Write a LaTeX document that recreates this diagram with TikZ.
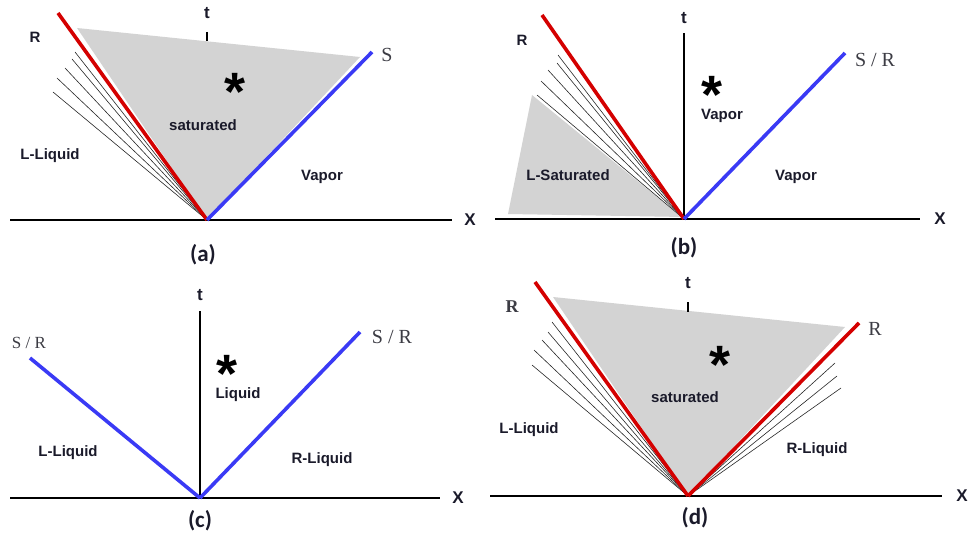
\documentclass[tikz,border=0pt]{standalone}
\usepackage{fontspec}
\setmainfont{Liberation Sans}
\newfontfamily\serifR{Liberation Serif}
\newfontfamily\capfont{Carlito}
\definecolor{wred}{HTML}{D40000}
\definecolor{wblue}{HTML}{3A3AF5}
\definecolor{wgray}{HTML}{D3D3D3}
\definecolor{lbl}{HTML}{1A1A2A}
\definecolor{slbl}{HTML}{3C3C44}
\newcommand{\starglyph}{\raisebox{-17.8pt}[15pt][0pt]{*}}
\begin{document}
\begin{tikzpicture}[x=1pt,y=-1pt,
  axisline/.style={line width=2pt,black},
  taxis/.style={line width=1.6pt,black},
  redwave/.style={line width=3.6pt,wred},
  bluewave/.style={line width=3.6pt,wblue},
  fanline/.style={line width=0.6pt,black!85},
  fillreg/.style={fill=wgray,draw=none},
  lab/.style={font=\fontsize{15}{17}\selectfont\bfseries,text=lbl,inner sep=0pt},
  axlab/.style={font=\fontsize{17}{19}\selectfont\bfseries,text=lbl,inner sep=0pt},
  serlab/.style={font=\serifR\fontsize{20}{22}\selectfont,text=slbl,inner sep=0pt},
  caplab/.style={font=\capfont\fontsize{23}{25}\selectfont\bfseries,text=lbl,inner sep=0pt},
  starlab/.style={font=\fontsize{54}{54}\selectfont\bfseries,inner sep=0pt}
]
\useasboundingbox (0,0) rectangle (971,540);

% ---------------- panel (a) ----------------
\coordinate (aO) at (207,220);
\coordinate (aR) at (58,13);
\coordinate (aS) at (372,52);
\coordinate (aXl) at (10,220);
\coordinate (aXr) at (452,220);
\fill[fillreg] (aO) -- (77,28) -- (360,57) -- cycle;
\foreach \p in {(75,52),(72,59),(65,68),(57,78),(53,92)}
  \draw[fanline] \p -- (aO);
\draw[axisline] (aXl) -- (aXr);
\coordinate (aT1) at (207,32); \coordinate (aT2) at (207,41);
\draw[taxis] (aT1) -- (aT2);
\draw[redwave] (aO) -- (aR);
\draw[bluewave] (aO) -- (aS);
\node[axlab] (at) at (207,13) {t};
\node[lab] (aRl) at (35,37) {R};
\node[serlab] (aSl) at (387,55) {S};
\node[starlab] (astar) at (235,85) {\starglyph};
\node[lab] (asat) at (203,125) {saturated};
\node[lab] (aLL) at (50,156) {L-Liquid};
\node[lab] (avap) at (322,177) {Vapor};
\node[axlab] (aX) at (470,220) {X};
\node[caplab] (acap) at (203,255) {(a)};

% ---------------- panel (b) ----------------
\coordinate (bO) at (684,219);
\coordinate (bR) at (542,15);
\coordinate (bS) at (845,53);
\coordinate (bXl) at (495,219);
\coordinate (bXr) at (920,219);
\coordinate (bT) at (684,33);
\fill[fillreg] (508,214) -- (532,95) -- (bO) -- (684,217) -- cycle;
\foreach \p in {(558,55),(557,63),(548,70),(541,81),(537,95)}
  \draw[fanline] \p -- (bO);
\draw[axisline] (bXl) -- (bXr);
\draw[taxis] (bO) -- (bT);
\draw[redwave] (bO) -- (bR);
\draw[bluewave] (bO) -- (bS);
\node[axlab] (bt) at (684,18) {t};
\node[lab] (bRl) at (522,40) {R};
\node[serlab] (bSl) at (875,60) {S / R};
\node[starlab] (bstar) at (712,88) {\starglyph};
\node[lab] (bvap1) at (722,116) {Vapor};
\node[lab] (bLS) at (568,175) {L-Saturated};
\node[lab] (bvap2) at (796,177) {Vapor};
\node[axlab] (bX) at (940,219) {X};
\node[caplab] (bcap) at (684,248) {(b)};

% ---------------- panel (c) ----------------
\coordinate (cO) at (200,498);
\coordinate (cL) at (30,358);
\coordinate (cR) at (360,332);
\coordinate (cXl) at (10,498);
\coordinate (cXr) at (440,498);
\coordinate (cT) at (200,311);
\draw[axisline] (cXl) -- (cXr);
\draw[taxis] (cO) -- (cT);
\draw[bluewave] (cO) -- (cL);
\draw[bluewave] (cO) -- (cR);
\node[axlab] (ct) at (200,295) {t};
\node[serlab,font=\serifR\fontsize{17}{19}\selectfont] (cSl) at (29,343) {S / R};
\node[serlab] (cSr) at (392,337) {S / R};
\node[starlab] (cstar) at (227,367) {\starglyph};
\node[lab] (cliq) at (238,395) {Liquid};
\node[lab] (cLL) at (68,453) {L-Liquid};
\node[lab] (cRL) at (322,460) {R-Liquid};
\node[axlab] (cX) at (458,498) {X};
\node[caplab] (ccap) at (200,521) {(c)};

% ---------------- panel (d) ----------------
\coordinate (dO) at (688,496);
\coordinate (dL) at (535,282);
\coordinate (dR) at (859,323);
\coordinate (dXl) at (490,496);
\coordinate (dXr) at (942,496);
\fill[fillreg] (dO) -- (553,297) -- (845,327) -- cycle;
\foreach \p in {(552,322),(548,332),(542,340),(534,350),(532,365),(835,363),(837,376),(841,388)}
  \draw[fanline] \p -- (dO);
\draw[axisline] (dXl) -- (dXr);
\coordinate (dT1) at (688,302); \coordinate (dT2) at (688,312);
\draw[taxis] (dT1) -- (dT2);
\draw[redwave] (dO) -- (dL);
\draw[redwave] (dO) -- (dR);
\node[axlab] (dt) at (688,283) {t};
\node[serlab,font=\serifR\fontsize{18}{20}\selectfont\bfseries] (dRl) at (512,307) {R};
\node[serlab] (dRr) at (875,329) {R};
\node[starlab] (dstar) at (720,358) {\starglyph};
\node[lab] (dsat) at (685,397) {saturated};
\node[lab] (dLL) at (529,430) {L-Liquid};
\node[lab] (dRL) at (817,450) {R-Liquid};
\node[axlab] (dX) at (962,496) {X};
\node[caplab] (dcap) at (695,518) {(d)};
\end{tikzpicture}
\end{document}
